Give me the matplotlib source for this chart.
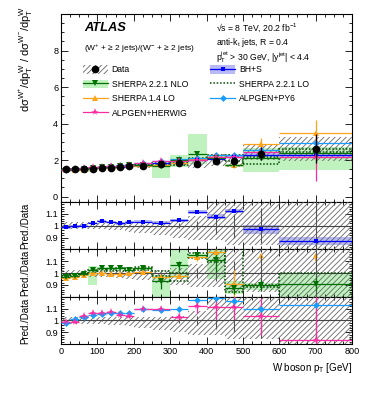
import numpy as np
import matplotlib
matplotlib.use("Agg")
import matplotlib.pyplot as plt
from matplotlib.patches import Patch
from matplotlib.lines import Line2D
from matplotlib.ticker import MultipleLocator, FixedLocator

plt.rcParams['font.family'] = ['Liberation Sans', 'DejaVu Sans']
plt.rcParams['mathtext.default'] = 'regular'
plt.rcParams['hatch.linewidth'] = 0.6

# bins in W pT [GeV]
edges = np.array([0, 25, 50, 75, 100, 125, 150, 175, 200, 250, 300, 350, 400, 450, 500, 600, 800])

# data (W+/W- ratio) and relative uncertainties
data_val = [1.50, 1.50, 1.51, 1.52, 1.54, 1.57, 1.61, 1.65, 1.67, 1.79, 1.86, 1.80, 1.92, 1.95, 2.35, 2.62]
data_stat = [0.004, 0.004, 0.004, 0.005, 0.005, 0.006, 0.007, 0.008, 0.008, 0.012, 0.02, 0.04, 0.07, 0.10, 0.15, 0.30]
sys_up = [0.03, 0.03, 0.03, 0.03, 0.03, 0.03, 0.03, 0.03, 0.03, 0.03, 0.04, 0.08, 0.20, 0.20, 0.20, 0.25]
sys_dn = [0.03, 0.03, 0.03, 0.03, 0.03, 0.035, 0.04, 0.05, 0.06, 0.08, 0.10, 0.12, 0.12, 0.16, 0.16, 0.25]

# main panel predictions
bhs_main = [1.48, 1.49, 1.51, 1.56, 1.60, 1.62, 1.64, 1.70, 1.73, 1.83, 1.94, 2.00, 2.06, 2.19, 2.28, 2.28]
nlo_main = [1.46, 1.46, 1.50, 1.57, 1.60, 1.63, 1.68, 1.70, 1.74, 1.65, 1.98, 2.33, 2.13, 1.70, 2.10, 2.38]
nlo_main_lo = [1.44, 1.45, 1.48, 1.37, 1.57, 1.60, 1.65, 1.67, 1.70, 1.04, 1.60, 1.80, 2.00, 1.60, 1.35, 1.48]
nlo_main_hi = [1.49, 1.49, 1.51, 1.61, 1.62, 1.65, 1.70, 1.72, 1.76, 1.80, 2.28, 3.45, 2.22, 1.78, 2.65, 2.70]
s14_main = [1.43, 1.44, 1.48, 1.52, 1.54, 1.56, 1.60, 1.65, 1.69, 1.74, 1.82, 2.05, 2.25, 1.72, 2.88, 3.50]
s14_main_err = [0.01, 0.01, 0.01, 0.01, 0.01, 0.01, 0.01, 0.02, 0.02, 0.03, 0.04, 0.06, 0.12, 0.15, 0.35, 0.70]
herwig_main = [1.48, 1.49, 1.57, 1.61, 1.63, 1.68, 1.68, 1.72, 1.84, 1.96, 1.92, 2.02, 2.14, 2.17, 2.43, 2.17]
py6_main = [1.47, 1.52, 1.56, 1.59, 1.62, 1.67, 1.71, 1.75, 1.84, 1.95, 2.04, 2.11, 2.28, 2.27, 2.55, 2.95]
slo_main_lo = [1.46, 1.46, 1.49, 1.53, 1.56, 1.59, 1.64, 1.68, 1.70, 1.75, 1.73, 2.05, 2.10, 1.95, 1.80, 2.43]
slo_main_hi = [1.49, 1.49, 1.51, 1.56, 1.59, 1.63, 1.67, 1.72, 1.75, 1.82, 1.86, 2.12, 2.30, 2.30, 2.15, 2.60]

# ratio panels (prediction / data)
bhs_r = [0.985, 0.995, 1.0, 1.025, 1.04, 1.03, 1.02, 1.03, 1.035, 1.025, 1.045, 1.115, 1.075, 1.125, 0.97, 0.87]
bhs_r_band = [0.015, 0.01, 0.01, 0.01, 0.01, 0.01, 0.01, 0.01, 0.012, 0.012, 0.015, 0.02, 0.02, 0.02, 0.04, 0.035]
nlo_r = [0.97, 0.975, 0.99, 1.03, 1.04, 1.04, 1.045, 1.03, 1.04, 0.93, 1.065, 1.15, 1.11, 0.875, 0.90, 0.91]
nlo_r_err = [0.005, 0.005, 0.005, 0.005, 0.005, 0.006, 0.006, 0.008, 0.008, 0.06, 0.04, 0.03, 0.1, 0.05, 0.05, 0.05]
nlo_r_lo = [0.96, 0.965, 0.98, 0.90, 1.025, 1.025, 1.03, 1.015, 1.025, 0.77, 0.96, 1.14, 0.95, 0.82, 0.86, 0.78]
nlo_r_hi = [0.98, 0.985, 1.0, 1.06, 1.05, 1.05, 1.055, 1.04, 1.05, 0.98, 1.25, 1.16, 1.22, 0.93, 0.92, 1.0]
slo_r_lo = [0.975, 0.975, 0.985, 1.005, 1.015, 1.015, 1.02, 1.02, 1.025, 0.975, 0.93, 1.13, 1.09, 0.84, 0.88, 0.79]
slo_r_hi = [0.99, 0.99, 1.0, 1.025, 1.035, 1.035, 1.045, 1.045, 1.055, 1.02, 1.0, 1.17, 1.21, 1.21, 0.90, 1.0]
s14_r = [0.957, 0.965, 0.985, 1.0, 1.0, 0.995, 0.99, 1.0, 1.01, 0.97, 0.975, 1.135, 1.175, 0.905, 1.5, 1.5]
s14_r_err = [0.005, 0.005, 0.005, 0.005, 0.005, 0.006, 0.006, 0.008, 0.01, 0.02, 0.02, 0.03, 0.05, 0.12, 0.1, 0.2]
py6_r = [0.98, 1.01, 1.03, 1.045, 1.055, 1.065, 1.065, 1.06, 1.10, 1.09, 1.095, 1.17, 1.19, 1.165, 1.095, 1.13]
py6_r_err = [0.01, 0.01, 0.01, 0.01, 0.01, 0.01, 0.01, 0.015, 0.015, 0.02, 0.02, 0.02, 0.03, 0.03, 0.03, 0.04]
herwig_r = [0.99, 0.99, 1.04, 1.06, 1.06, 1.07, 1.045, 1.04, 1.10, 1.095, 1.03, 1.12, 1.115, 1.115, 1.035, 0.83]
herwig_r_err = [0.01, 0.01, 0.01, 0.01, 0.01, 0.01, 0.015, 0.015, 0.015, 0.02, 0.03, 0.06, 0.10, 0.10, 0.16, 0.5]

# colours
c_bhs, c_bhs_band = '#0000ff', '#b9b9f7'
c_nlo, c_nlo_band = '#007000', '#bff2bf'
c_slo = '#004d00'
c_s14 = '#ffa31a'
c_her = '#ff2aa0'
c_py6 = '#1a9cff'
c_hatch = '#666666'

centers = 0.5 * (edges[1:] + edges[:-1])
widths = np.diff(edges)
halfw = widths / 2
dv = np.array(data_val)


def band(ax, lo, hi, color, z=1):
    lo, hi = np.array(lo), np.array(hi)
    ax.bar(edges[:-1], hi - lo, width=widths, bottom=lo, align='edge', color=color, lw=0, zorder=z)


def dotted_boxes(ax, lo, hi):
    lo, hi = np.array(lo), np.array(hi)
    ax.bar(edges[:-1], hi - lo, width=widths, bottom=lo, align='edge', fill=False,
           edgecolor=c_slo, linestyle=(0, (1, 1.2)), lw=1.1, zorder=4)


def hatch(ax, lo, hi):
    lo, hi = np.array(lo), np.array(hi)
    ax.bar(edges[:-1], hi - lo, width=widths, bottom=lo, align='edge', fill=False,
           hatch='//////', edgecolor=c_hatch, lw=0, zorder=3)


def pred(ax, vals, err, color, marker, ms=4, z=5):
    ax.errorbar(centers, vals, xerr=halfw, yerr=err, fmt=marker, color=color, ms=ms,
                lw=0.9, capsize=0, zorder=z, mew=0)


fig = plt.figure(figsize=(3.74, 3.96), dpi=100)
L, W = 0.1631, 0.7781
ax0 = fig.add_axes([L, 0.4899, W, 0.4747])
ax1 = fig.add_axes([L, 0.3702, W, 0.1197])
ax2 = fig.add_axes([L, 0.2505, W, 0.1197])
ax3 = fig.add_axes([L, 0.1313, W, 0.1189])

# ---- main panel
band(ax0, nlo_main_lo, nlo_main_hi, c_nlo_band)
bb = np.array(bhs_r_band) * dv
band(ax0, np.array(bhs_main) - bb, np.array(bhs_main) + bb, c_bhs_band, z=2)
hatch(ax0, dv * (1 - np.array(sys_dn)), dv * (1 + np.array(sys_up)))
dotted_boxes(ax0, slo_main_lo, slo_main_hi)
pred(ax0, s14_main, s14_main_err, c_s14, '^')
pred(ax0, py6_main, np.array(py6_r_err) * dv, c_py6, 'D', ms=3.5)
pred(ax0, bhs_main, None, c_bhs, 's', ms=3.5)
pred(ax0, nlo_main, np.array(nlo_r_err) * dv, c_nlo, 'v')
pred(ax0, herwig_main, np.array(herwig_r_err) * dv, c_her, '*', ms=5.5)
ax0.errorbar(centers, data_val, yerr=dv * np.array(data_stat), fmt='o', color='black', ms=4.5,
             lw=0.9, capsize=0, zorder=8)
ax0.set_ylim(-0.3, 10)
ax0.yaxis.set_major_locator(FixedLocator([0, 2, 4, 6, 8]))
ax0.yaxis.set_minor_locator(MultipleLocator(0.5))

ax0.text(0.079, 0.925, 'ATLAS', transform=ax0.transAxes, fontsize=9.3, fontweight='bold',
         fontstyle='italic', va='center')
ax0.text(0.079, 0.814, '(W$^{+}$ + ≥ 2 jets)/(W$^{-}$ + ≥ 2 jets)', transform=ax0.transAxes,
         fontsize=6.0, va='center')
ax0.text(0.533, 0.925, '√s = 8 TeV, 20.2 fb$^{-1}$', transform=ax0.transAxes, fontsize=6.2, va='center')
ax0.text(0.533, 0.848, 'anti-k$_{t}$ jets, R = 0.4', transform=ax0.transAxes, fontsize=6.2, va='center')
ax0.text(0.533, 0.772, 'p$_{T}^{jet}$ > 30 GeV, |y$^{jet}$| < 4.4', transform=ax0.transAxes,
         fontsize=6.2, va='center')

# legend
h_data = (Patch(fill=False, hatch='//////', edgecolor=c_hatch, lw=0),
          Line2D([], [], color='black', marker='o', ls='none', ms=4.5))
h_nlo = (Patch(color=c_nlo_band, lw=0), Line2D([], [], color=c_nlo, marker='v', ms=4, mew=0, lw=0.9))
h_s14 = Line2D([], [], color=c_s14, marker='^', ms=4, mew=0, lw=0.9)
h_her = Line2D([], [], color=c_her, marker='*', ms=5.5, mew=0, lw=0.9)
h_bhs = (Patch(color=c_bhs_band, lw=0), Line2D([], [], color=c_bhs, marker='s', ms=3.5, mew=0, lw=0.9))
h_slo = Line2D([], [], color=c_slo, ls=(0, (1, 1.2)), lw=1.1)
h_py6 = Line2D([], [], color=c_py6, marker='D', ms=3.5, mew=0, lw=0.9)
ax0.legend([h_data, h_nlo, h_s14, h_her, h_bhs, h_slo, h_py6],
           ['Data', 'SHERPA 2.2.1 NLO', 'SHERPA 1.4 LO', 'ALPGEN+HERWIG',
            'BH+S', 'SHERPA 2.2.1 LO', 'ALPGEN+PY6'],
           ncol=2, loc='upper left', bbox_to_anchor=(0.075, 0.728), frameon=False,
           fontsize=6.2, borderpad=0, borderaxespad=0, handlelength=2.9, handleheight=1.2,
           handletextpad=0.45, columnspacing=2.6, labelspacing=0.6)

# ---- ratio panels
for ax in (ax1, ax2, ax3):
    hatch(ax, 1 - np.array(sys_dn), 1 + np.array(sys_up))
    ax.axhline(1, color='#444444', lw=0.8, zorder=4)
    ax.errorbar(centers, np.ones(len(centers)), yerr=data_stat, fmt='none', ecolor='#555555',
                lw=0.8, capsize=0, zorder=4)
    ax.set_ylim(0.8, 1.2)
    ax.yaxis.set_major_locator(FixedLocator([0.9, 1.0, 1.1]))
    ax.yaxis.set_minor_locator(MultipleLocator(0.02))
    ax.set_yticklabels(['0.9', '1', '1.1'])

# BH+S
band(ax1, np.array(bhs_r) - np.array(bhs_r_band), np.array(bhs_r) + np.array(bhs_r_band), c_bhs_band, z=2)
pred(ax1, bhs_r, None, c_bhs, 's', ms=3.5)

# SHERPA
band(ax2, nlo_r_lo, nlo_r_hi, c_nlo_band)
dotted_boxes(ax2, slo_r_lo, slo_r_hi)
pred(ax2, s14_r, s14_r_err, c_s14, '^')
pred(ax2, nlo_r, nlo_r_err, c_nlo, 'v')
for x, v in zip(centers, s14_r):
    if v > 1.2:
        ax2.annotate('', xy=(x, 1.195), xytext=(x, 1.08),
                     arrowprops=dict(arrowstyle='-|>', color=c_s14, lw=0.9, mutation_scale=6))

# ALPGEN
pred(ax3, py6_r, py6_r_err, c_py6, 'D', ms=3.5)
pred(ax3, herwig_r, herwig_r_err, c_her, '*', ms=5.5)

for ax in (ax0, ax1, ax2, ax3):
    ax.set_xlim(0, 800)
    ax.xaxis.set_major_locator(MultipleLocator(100))
    ax.xaxis.set_minor_locator(MultipleLocator(25))
    ax.tick_params(which='both', direction='in', top=True, right=True, labelsize=6.6, width=0.6, pad=2)
    ax.tick_params(which='major', length=5)
    ax.tick_params(which='minor', length=2.5)
    for s in ax.spines.values():
        s.set_linewidth(0.8)
    if ax is not ax3:
        ax.tick_params(labelbottom=False)

fig.text(0.072, 0.985, r'd$\sigma^{W^{+}}$/d$p_{T}^{W}$ / d$\sigma^{W^{-}}$/d$p_{T}^{W}$', rotation=90,
         ha='center', va='top', fontsize=8)
for ax in (ax1, ax2, ax3):
    pos = ax.get_position()
    fig.text(0.068, pos.y0 + pos.height / 2, 'Pred./Data', rotation=90, ha='center', va='center', fontsize=7)
fig.text(0.941, 0.071, 'W boson p$_{T}$ [GeV]', ha='right', va='center', fontsize=7)

fig.savefig('out.png', dpi=100)
